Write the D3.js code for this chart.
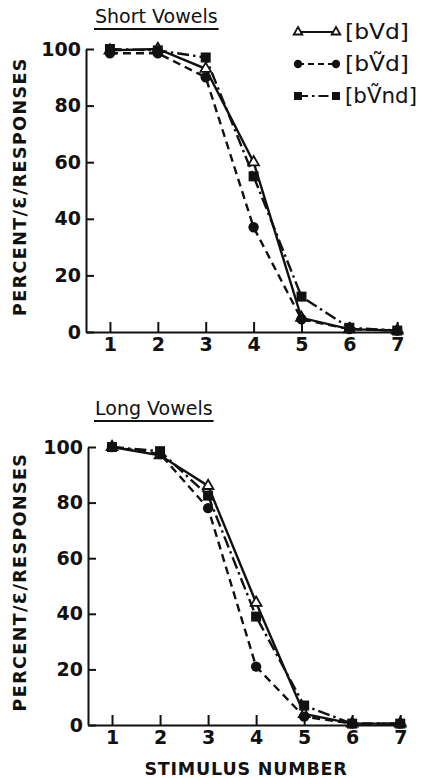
<!DOCTYPE html>
<html>
<head>
<meta charset="utf-8">
<script src="https://cdn.jsdelivr.net/npm/d3@7"></script>
<style>
  body { margin: 0; background: #fff; }
  svg { display: block; }
  .tick text { font-family: "DejaVu Sans", sans-serif; font-weight: bold; font-size: 19px; fill: #111; }
  .tick line, .domain { stroke: #111; stroke-width: 2; }
</style>
</head>
<body>
<svg id="chart" width="422" height="778"></svg>
<script>
// stimulus numbers on the x axis
const stimulus = [1, 2, 3, 4, 5, 6, 7];
const yTicks = [0, 20, 40, 60, 80, 100];

// percent /ɛ/ responses, short vowels
const shortBVd   = [99.5, 100, 93, 60, 5, 1, 0.5];
const shortBVnD  = [98.5, 98.5, 90, 37, 4.5, 1, 0.5];
const shortBVnd  = [100, 99.5, 97, 55, 12.5, 1.5, 0.5];

// percent /ɛ/ responses, long vowels
const longBVd    = [100, 97, 86, 44, 4, 0.5, 0.5];
const longBVnD   = [100, 97.5, 78, 21, 3, 0.5, 0.5];
const longBVnd   = [100, 98.5, 82.5, 39, 7, 0.5, 0.5];

const seriesNames = ['[bVd]', '[b\u1E7Cd]', '[b\u1E7Cnd]'];

const styles = [
  {dash: null,           marker: 'triangle'},
  {dash: '8,5',          marker: 'circle'},
  {dash: '12,4,2.5,4',   marker: 'square'}
];

const svg = d3.select('#chart');
const font = '"DejaVu Sans", sans-serif';

function drawMarker(g, type, x, y, s = 1){
  if(type === 'triangle'){
    g.append('path')
      .attr('d', d3.symbol(d3.symbolTriangle, 50 * s * s)())
      .attr('transform', `translate(${x},${y})`)
      .attr('fill', '#fff').attr('stroke', '#111').attr('stroke-width', 1.8);
  } else if(type === 'circle'){
    g.append('circle').attr('cx', x).attr('cy', y).attr('r', 5.2 * s).attr('fill', '#111');
  } else {
    g.append('rect').attr('x', x - 5 * s).attr('y', y - 5 * s)
      .attr('width', 10 * s).attr('height', 10 * s).attr('fill', '#111');
  }
}

function panel(cfg){
  const x = d3.scaleLinear().domain([0.5, 7.12]).range(cfg.xr);
  const y = d3.scaleLinear().domain([0, 100]).range(cfg.yr);
  const g = svg.append('g');

  g.append('g')
    .attr('transform', `translate(0,${cfg.yr[0]})`)
    .call(d3.axisBottom(x).tickValues(stimulus).tickSizeInner(-10).tickSizeOuter(0).tickPadding(6).tickFormat(d3.format('d')));

  g.append('g')
    .attr('transform', `translate(${cfg.xr[0]},0)`)
    .call(d3.axisLeft(y).tickValues(yTicks).tickSizeInner(-8).tickSizeOuter(0).tickPadding(5).tickFormat(d3.format('d')));

  // title with underline
  const t = g.append('text')
    .attr('x', cfg.titleX).attr('y', cfg.titleY)
    .attr('font-family', font).attr('font-size', 19).attr('fill', '#111')
    .text(cfg.title);
  const w = t.node().getComputedTextLength();
  g.append('line')
    .attr('x1', cfg.titleX - 1).attr('x2', cfg.titleX + w + 1)
    .attr('y1', cfg.titleY + 6).attr('y2', cfg.titleY + 6)
    .attr('stroke', '#111').attr('stroke-width', 2);

  // y label
  const yc = (cfg.yr[0] + cfg.yr[1]) / 2 - 4;
  g.append('text')
    .attr('transform', `translate(26,${yc}) rotate(-90)`)
    .attr('text-anchor', 'middle')
    .attr('font-family', font).attr('font-weight', 'bold').attr('font-size', 17.5)
    .attr('letter-spacing', 1.4).attr('fill', '#111')
    .text('PERCENT/\u0190/RESPONSES');

  const line = d3.line().x((d, i) => x(stimulus[i])).y(d => y(d));
  cfg.series.forEach((vals, k) => {
    g.append('path')
      .attr('d', line(vals))
      .attr('fill', 'none').attr('stroke', '#111').attr('stroke-width', 2.4)
      .attr('stroke-dasharray', styles[k].dash);
  });
  cfg.series.forEach((vals, k) => {
    vals.forEach((v, i) => drawMarker(g, styles[k].marker, x(stimulus[i]), y(v)));
  });
}

panel({
  title: 'Short Vowels', titleX: 95, titleY: 23,
  xr: [86, 403], yr: [332, 49],
  series: [shortBVd, shortBVnD, shortBVnd]
});

panel({
  title: 'Long Vowels', titleX: 95, titleY: 415,
  xr: [88, 406], yr: [725, 447],
  series: [longBVd, longBVnD, longBVnd]
});

// x axis title
svg.append('text')
  .attr('x', 246).attr('y', 775)
  .attr('text-anchor', 'middle')
  .attr('font-family', font).attr('font-weight', 'bold').attr('font-size', 17.5)
  .attr('letter-spacing', 0.8).attr('fill', '#111')
  .text('STIMULUS NUMBER');

// legend
const leg = svg.append('g');
const legY = [32, 64, 96];
seriesNames.forEach((name, k) => {
  leg.append('line')
    .attr('x1', 298).attr('x2', 336).attr('y1', legY[k]).attr('y2', legY[k])
    .attr('stroke', '#111').attr('stroke-width', 2.2)
    .attr('stroke-dasharray', k === 2 ? '10,4,2.5,4' : (k === 1 ? '6,4' : null));
  drawMarker(leg, styles[k].marker, 298, legY[k], 0.8);
  drawMarker(leg, styles[k].marker, 336, legY[k], 0.8);
  leg.append('text')
    .attr('x', 345).attr('y', legY[k] + 7)
    .attr('font-family', font).attr('font-size', 21).attr('fill', '#111')
    .attr('textLength', k === 2 ? 72 : 64).attr('lengthAdjust', 'spacingAndGlyphs')
    .text(name);
});
</script>
</body>
</html>
